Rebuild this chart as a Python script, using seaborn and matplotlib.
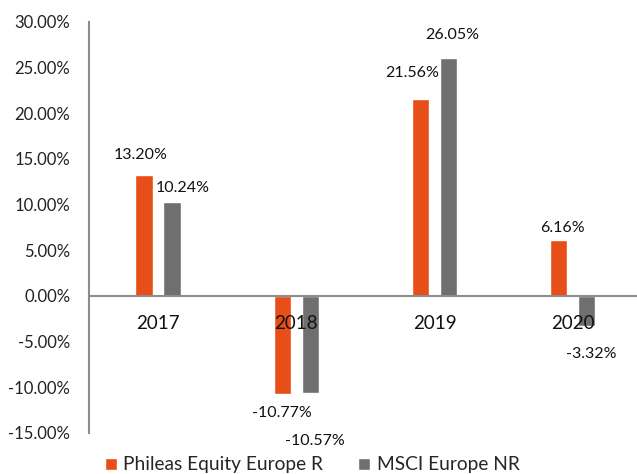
import pandas as pd
import seaborn as sns
import matplotlib.pyplot as plt

# chart values (percent)
years = ['2017', '2018', '2019', '2020']
phileas = [13.20, -10.77, 21.56, 6.16]
msci = [10.24, -10.57, 26.05, -3.32]
series = ['Phileas Equity Europe R', 'MSCI Europe NR']

df = pd.DataFrame({
    'Year': years * 2,
    'Return': phileas + msci,
    'Series': [series[0]] * 4 + [series[1]] * 4,
})

sns.set_style("white")
plt.rcParams['font.family'] = ['Lato', 'DejaVu Sans']

fig = plt.figure(figsize=(6.37, 4.74), dpi=100)
ax = fig.add_axes([0.1397, 0.0865, 0.868, 0.8671])

colors = ['#E84E17', '#6F6F70']
sns.barplot(data=df, x='Year', y='Return', hue='Series', palette=colors,
            saturation=1, width=0.404, gap=0.38, ax=ax, legend=True)

ax.set_ylim(-15, 30)
ax.set_xlim(-0.5, 3.5)
ax.set_yticks(range(-15, 31, 5))
ax.set_yticklabels([f'{v:.2f}%' for v in range(-15, 31, 5)], fontsize=12, color='#222222')
ax.tick_params(axis='y', length=0, pad=13.5)
ax.set_xticks([])
ax.set_xlabel('')
ax.set_ylabel('')

for s in ['top', 'right', 'bottom']:
    ax.spines[s].set_visible(False)
ax.spines['left'].set_color('#8C8C8C')
ax.spines['left'].set_linewidth(1.5)
ax.axhline(0, color='#8C8C8C', lw=1.5, zorder=3)

# year labels just under the zero line
for i, y in enumerate(years):
    ax.annotate(y, (i, 0), xytext=(0, -19.5), textcoords='offset points',
                ha='center', va='center', fontsize=13.5, color='#111111', zorder=4)

# value labels (offsets in points, roughly where the source puts them)
offs_p = [(-2.4, 14.4), (0, -13.7), (-5.8, 19), (2.5, 8.7)]
offs_m = [(7.6, 10.6), (3.6, -35), (2.5, 16.5), (3, -20)]
for i in range(len(years)):
    for vals, offs, dx in [(phileas, offs_p, -0.101), (msci, offs_m, 0.101)]:
        v = vals[i]
        ax.annotate(f'{v:.2f}%', (i + dx, v), xytext=offs[i], textcoords='offset points',
                    ha='center', va='center', fontsize=11.5, color='#111111')

ax.get_legend().remove()
handles, labels = ax.get_legend_handles_labels()
fig.legend(handles, labels, loc='center', bbox_to_anchor=(0.49, 0.019), ncol=2, frameon=False,
           fontsize=13.8, handlelength=0.62, handleheight=0.62, handletextpad=0.35,
           columnspacing=1.8, borderpad=0)

fig.savefig('out.png', dpi=100)
